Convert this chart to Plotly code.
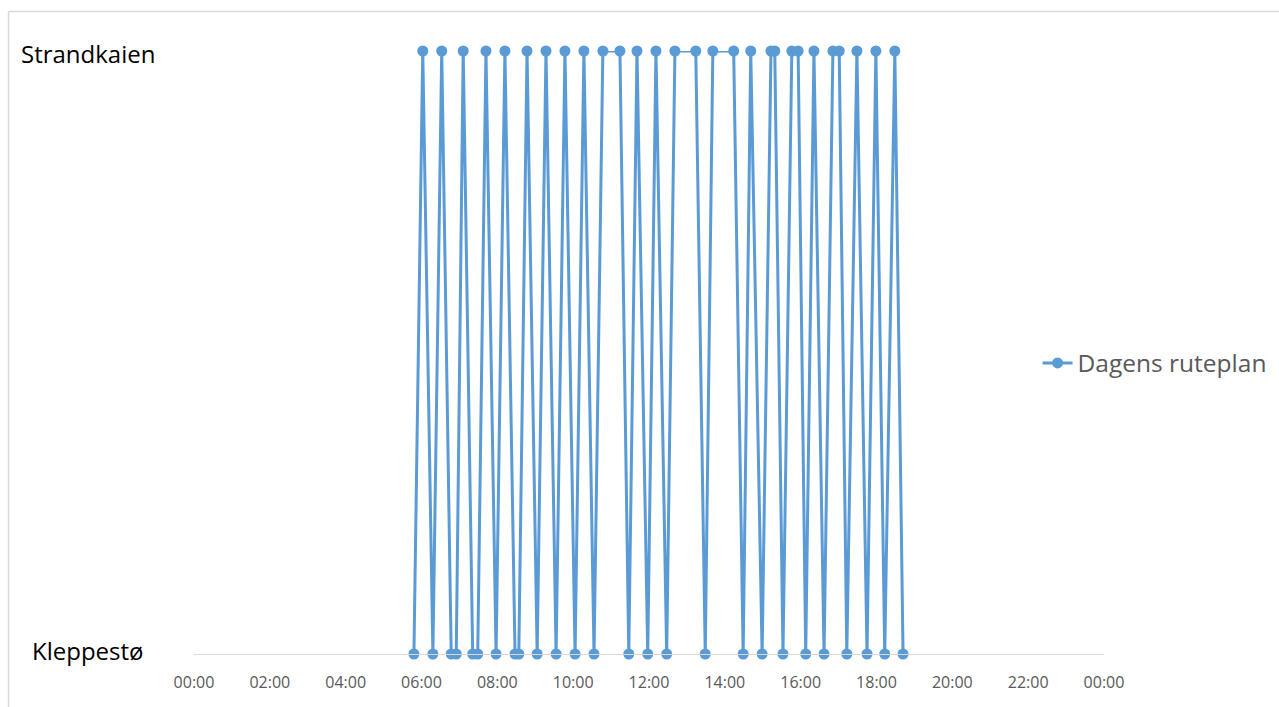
import plotly.graph_objects as go

# Ferry stops through the day (time, quay), in sailing order
stop_times = [
    "05:48", "06:02", "06:18", "06:32", "06:47", "06:55", "07:06", "07:21",
    "07:29", "07:42", "07:58", "08:12", "08:28", "08:34", "08:47", "09:03",
    "09:17", "09:33", "09:47", "10:03", "10:17", "10:33", "10:47", "11:14",
    "11:28", "11:41", "11:58", "12:11", "12:28", "12:41", "13:14", "13:29",
    "13:41", "14:14", "14:29", "14:41", "14:59", "15:13", "15:19", "15:32",
    "15:46", "15:56", "16:08", "16:21", "16:37", "16:51", "17:01", "17:13",
    "17:29", "17:45", "17:59", "18:13", "18:29", "18:42",
]
stop_quay = [
    "K", "S", "K", "S", "K", "K", "S", "K",
    "K", "S", "K", "S", "K", "K", "S", "K",
    "S", "K", "S", "K", "S", "K", "S", "S",
    "K", "S", "K", "S", "K", "S", "S", "K",
    "S", "S", "K", "S", "K", "S", "S", "K",
    "S", "S", "K", "S", "K", "S", "S", "K",
    "S", "K", "S", "K", "S", "K",
]
quay_labels = ["Kleppestø", "Strandkaien"]
quay_level = {"K": 0, "S": 1}
series_name = "Dagens ruteplan"
x_ticks = ["00:00", "02:00", "04:00", "06:00", "08:00", "10:00", "12:00",
           "14:00", "16:00", "18:00", "20:00", "22:00", "00:00"]

day = "2024-01-01"
xs = [f"{day} {t}:00" for t in stop_times]
ys = [quay_level[q] for q in stop_quay]
tick_vals = [f"{day} {t}:00" for t in x_ticks[:-1]] + ["2024-01-02 00:00:00"]

blue = "#5B9BD5"
grey_txt = "#595959"
font = "Open Sans"

fig = go.Figure()
fig.add_trace(go.Scatter(
    x=xs, y=ys, mode="lines+markers", name=series_name,
    line=dict(color=blue, width=3),
    marker=dict(color=blue, size=11),
    cliponaxis=False,
))

fig.update_layout(
    width=1279, height=707,
    margin=dict(l=194, r=175, t=51, b=53, autoexpand=False),
    paper_bgcolor="white", plot_bgcolor="white",
    showlegend=True,
    legend=dict(x=0.927, y=0.4826, xanchor="left", yanchor="middle",
                font=dict(family=font, size=24.5, color=grey_txt),
                itemwidth=30, bgcolor="rgba(0,0,0,0)"),
    xaxis=dict(
        type="date", range=[f"{day} 00:00:00", "2024-01-02 00:00:00"],
        tickvals=tick_vals, ticktext=x_ticks,
        tickfont=dict(family=font, size=16, color=grey_txt),
        showgrid=False, zeroline=False,
        showline=True, linecolor="#d9d9d9", linewidth=1.3,
        ticks="", ticklabelstandoff=14,
    ),
    yaxis=dict(
        range=[0, 1], tickvals=[0, 1], showticklabels=False,
        showgrid=True, gridcolor="#d9d9d9", gridwidth=1.3,
        zeroline=False, showline=False, ticks="",
    ),
)

# Quay names beside the plot
for lvl, name in enumerate(quay_labels):
    fig.add_annotation(
        text=name, xref="paper", yref="y", x=-0.1165, y=lvl,
        xanchor="center", yanchor="middle", showarrow=False,
        yshift=4 if lvl == 0 else -2,
        font=dict(family=font, size=24, color="black"),
    )

# Chart-area border (left and top edges)
fig.add_shape(type="line", xref="paper", yref="paper",
              x0=-0.2038, x1=-0.2038, y0=-0.09, y1=1.0655,
              line=dict(color="#d9d9d9", width=1.5))
fig.add_shape(type="line", xref="paper", yref="paper",
              x0=-0.2038, x1=1.2, y0=1.0655, y1=1.0655,
              line=dict(color="#d9d9d9", width=1.5))

fig.write_html("out.html")
